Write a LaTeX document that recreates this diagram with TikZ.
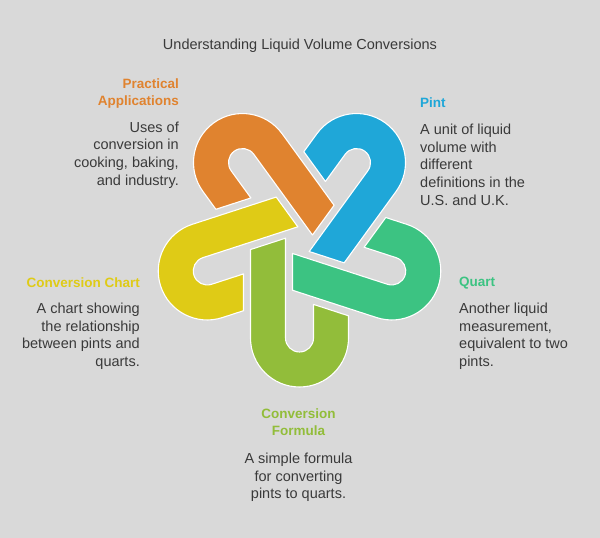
\documentclass[tikz,border=0pt]{standalone}
\usepackage{fontspec}
\setmainfont{Liberation Sans}
\definecolor{bg}{HTML}{D9D9D9}
\definecolor{txt}{HTML}{3A3A3A}
\definecolor{corange}{HTML}{E0832F}
\definecolor{cblue}{HTML}{1FA7D8}
\definecolor{cteal}{HTML}{3CC382}
\definecolor{cgreen}{HTML}{92BD3A}
\definecolor{cyellow}{HTML}{DFCB16}
\begin{document}
\begin{tikzpicture}[x=1pt,y=1pt,
  hook/.style={draw=white, line width=1.1pt, line join=round},
  body/.style={font=\fontsize{14.5}{17.7}\selectfont, text=txt, inner sep=0pt},
  head/.style={font=\fontsize{13.5}{17.5}\selectfont\bfseries, inner sep=0pt},
  title/.style={font=\fontsize{14.5}{17}\selectfont, text=txt, inner sep=0pt}]
\fill[bg] (0,0) rectangle (600,538);
\useasboundingbox (0,0) rectangle (600,538);
\coordinate (C) at (299.5,297);
\foreach \ang/\col in {0/cgreen,-72/cyellow,-144/corange,-216/cblue,-288/cteal}{
  \filldraw[hook, fill=\col, shift={(C)}, rotate=\ang]
    (-49,-8.56) -- (-14,2.81) -- (-14,-97)
    arc[start angle=180, end angle=360, radius=14]
    -- (14,-63.4) -- (49,-74.8) -- (49,-97)
    arc[start angle=0, end angle=-180, radius=49] -- cycle;
}
\node[title, anchor=base] (t) at (300,488) {Understanding Liquid Volume Conversions};
% Practical Applications
\node[head, text=corange, anchor=north east, align=right] (pah) at (179,459.7) {Practical\\Applications};
\node[body, anchor=north east, align=right] (pab) at (179,416.4) {Uses of\\conversion in\\cooking, baking,\\and industry.};
% Pint
\node[head, text=cblue, anchor=north west, align=left] (pih) at (420,440.7) {Pint};
\node[body, anchor=north west, align=left] (pib) at (420,414.4) {A unit of liquid\\volume with\\different\\definitions in the\\U.S. and U.K.};
% Conversion Chart
\node[head, text=cyellow, anchor=north east, align=right] (cch) at (140,260.7) {Conversion Chart};
\node[body, anchor=north east, align=right] (ccb) at (140,235.4) {A chart showing\\the relationship\\between pints and\\quarts.};
% Quart
\node[head, text=cteal, anchor=north west, align=left] (qh) at (459,260.7) {Quart};
\node[body, anchor=north west, align=left] (qb) at (459,235.4) {Another liquid\\measurement,\\equivalent to two\\pints.};
% Conversion Formula
\node[head, text=cgreen, anchor=north, align=center] (cfh) at (298.5,129.7) {Conversion\\Formula};
\node[body, anchor=north, align=center] (cfb) at (298.5,85.4) {A simple formula\\for converting\\pints to quarts.};
\end{tikzpicture}
\end{document}
